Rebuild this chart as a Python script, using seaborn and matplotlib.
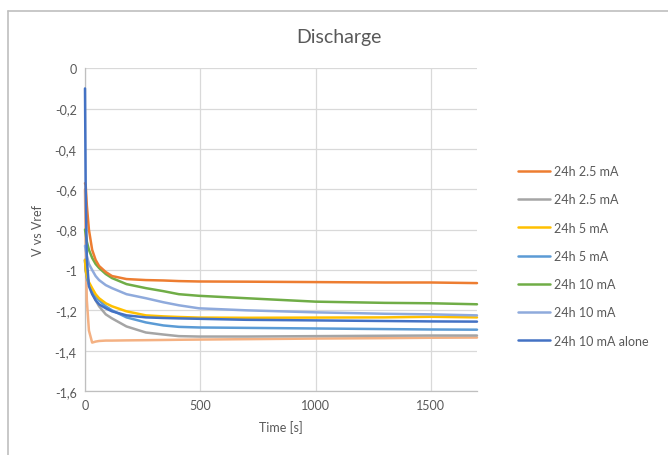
import matplotlib
matplotlib.use("Agg")
import matplotlib.pyplot as plt
import matplotlib.ticker as mticker
from matplotlib.lines import Line2D
import seaborn as sns
import pandas as pd
import numpy as np

# ---- data ----
time_s = [0, 3, 8, 17, 31, 46, 61, 90, 117, 180, 264, 340, 407, 494, 700, 1000, 1300, 1500, 1700]

v_25a = [-0.57, -0.58, -0.68, -0.80, -0.90, -0.95, -0.98, -1.01, -1.03, -1.045, -1.05, -1.052, -1.055, -1.057, -1.058, -1.06, -1.062, -1.062, -1.065]
v_25b = [-0.95, -1.00, -1.03, -1.07, -1.11, -1.15, -1.18, -1.22, -1.24, -1.28, -1.31, -1.32, -1.328, -1.33, -1.33, -1.328, -1.326, -1.325, -1.325]
v_5a = [-0.95, -1.00, -1.03, -1.06, -1.09, -1.12, -1.14, -1.165, -1.18, -1.205, -1.225, -1.23, -1.233, -1.236, -1.237, -1.236, -1.235, -1.232, -1.235]
v_5b = [-0.95, -1.00, -1.04, -1.07, -1.10, -1.13, -1.15, -1.18, -1.20, -1.235, -1.26, -1.275, -1.282, -1.285, -1.287, -1.29, -1.293, -1.295, -1.296]
v_10a = [-0.80, -0.82, -0.86, -0.90, -0.94, -0.97, -0.99, -1.02, -1.04, -1.07, -1.09, -1.105, -1.12, -1.128, -1.14, -1.157, -1.163, -1.165, -1.17]
v_10b = [-0.88, -0.90, -0.93, -0.97, -1.00, -1.03, -1.05, -1.075, -1.09, -1.12, -1.14, -1.16, -1.175, -1.19, -1.2, -1.21, -1.217, -1.22, -1.225]
v_10alone = [-0.10, -0.60, -0.95, -1.08, -1.12, -1.15, -1.17, -1.19, -1.205, -1.225, -1.235, -1.238, -1.24, -1.242, -1.247, -1.25, -1.253, -1.255, -1.256]
v_extra = [-0.60, -0.90, -1.15, -1.30, -1.36, -1.355, -1.352, -1.35, -1.35, -1.349, -1.348, -1.347, -1.346, -1.345, -1.343, -1.34, -1.338, -1.336, -1.335]

labels = ["24h 2.5 mA", "24h 2.5 mA ", "24h 5 mA", "24h 5 mA ", "24h 10 mA", "24h 10 mA ", "24h 10 mA alone", "extra"]
series = [v_25a, v_25b, v_5a, v_5b, v_10a, v_10b, v_10alone, v_extra]
colors = ["#ED7D31", "#A5A5A5", "#FFC000", "#5B9BD5", "#70AD47", "#8FAADC", "#4472C4", "#F4B183"]

x_ticks = [0, 500, 1000, 1500]
y_ticks = [0, -0.2, -0.4, -0.6, -0.8, -1.0, -1.2, -1.4, -1.6]

rows = []
for lab, vals in zip(labels, series):
    for t, v in zip(time_s, vals):
        rows.append({"Time": t, "V": v, "Series": lab})
df = pd.DataFrame(rows)

sns.set_style("white")
plt.rcParams["font.family"] = ["Lato", "DejaVu Sans"]
text_c = "#595959"
fs = 9

fig = plt.figure(figsize=(6.68, 4.56), dpi=100)
ax = fig.add_axes([85 / 668, 1 - 392 / 456, (477 - 85) / 668, (392 - 69.3) / 456])

# draw the extra (salmon) first so it's underneath
order = [7, 1, 3, 2, 5, 4, 0, 6]
for i in order:
    sub = df[df["Series"] == labels[i]]
    sns.lineplot(data=sub, x="Time", y="V", ax=ax, color=colors[i], linewidth=1.8,
                 legend=False, estimator=None, zorder=3, clip_on=False)

ax.set_xlim(0, 1700)
ax.set_ylim(-1.6, 0)
ax.set_xticks(x_ticks)
ax.set_yticks(y_ticks)
ax.yaxis.set_major_formatter(mticker.FuncFormatter(
    lambda v, p: "0" if abs(v) < 1e-9 else ("%g" % v).replace(".", ",")))
ax.grid(True, color="#D9D9D9", linewidth=0.9)
ax.set_axisbelow(True)
for s in ["top", "right"]:
    ax.spines[s].set_visible(False)
for s in ["left", "bottom"]:
    ax.spines[s].set_color("#BFBFBF")
    ax.spines[s].set_linewidth(0.9)
    ax.spines[s].set_zorder(1.5)
ax.tick_params(axis="both", length=0, labelsize=fs, colors=text_c, pad=6)
ax.set_xlabel("Time [s]", fontsize=fs, color=text_c, labelpad=6)
ax.set_ylabel("V vs Vref", fontsize=fs, color=text_c, labelpad=8)

fig.text(339 / 668, 1 - 38 / 456, "Discharge", ha="center", va="center",
         fontsize=14, color=text_c)

handles = [Line2D([0], [0], color=colors[i], linewidth=1.8) for i in range(7)]
leg = fig.legend(handles, [l.strip() for l in labels[:7]], loc="center left",
                 bbox_to_anchor=(507 / 668, 1 - 257 / 456), frameon=False,
                 fontsize=fs, handlelength=2.5, handletextpad=0.4, labelspacing=1.3)
for t in leg.get_texts():
    t.set_color(text_c)

# chart-area border (only left and top visible in the crop)
fig.add_artist(Line2D([8 / 668, 8 / 668], [0, 1 - 12 / 456], color="#BFBFBF", linewidth=1.2,
                      transform=fig.transFigure))
fig.add_artist(Line2D([8 / 668, 1], [1 - 12 / 456, 1 - 12 / 456], color="#BFBFBF", linewidth=1.2,
                      transform=fig.transFigure))

fig.savefig("out.png", dpi=100)
